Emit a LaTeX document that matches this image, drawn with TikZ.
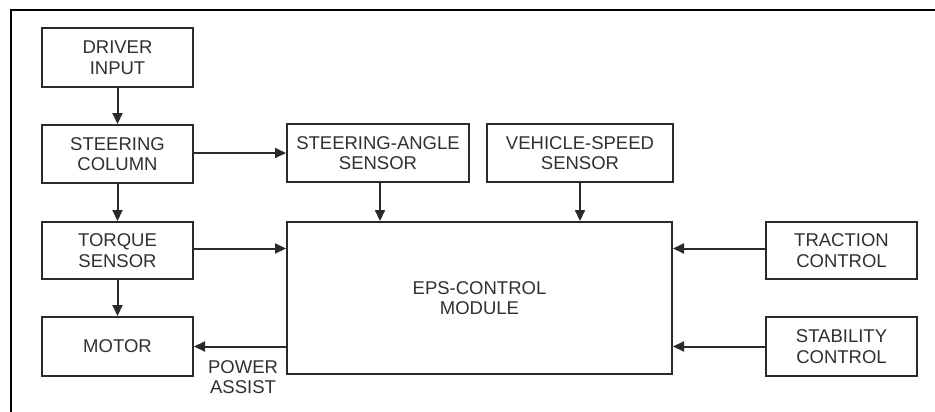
\documentclass[tikz,border=0pt]{standalone}
\usepackage{fontspec}
\setmainfont{Liberation Sans}
\usetikzlibrary{arrows.meta,calc}
\definecolor{linec}{HTML}{2A2A2A}
\definecolor{textc}{HTML}{303030}
\begin{document}
\begin{tikzpicture}[x=1pt,y=-1pt,
  blk/.style={draw=linec,line width=2pt,rectangle,inner sep=0pt,align=center,
    font=\fontsize{18.5}{20.5}\selectfont,text=textc},
  arr/.style={draw=linec,line width=2pt,-{Triangle[length=11pt,width=10pt]}}]
\useasboundingbox (0,0) rectangle (935,412);
\fill[white] (0,0) rectangle (935,412);
% frame
\draw[black,line width=2pt] (11,412) -- (11,10) -- (935,10);
% boxes
\node[blk,minimum width=151pt,minimum height=59pt] (driver) at (117.5,57.5) {DRIVER\\INPUT};
\node[blk,minimum width=151pt,minimum height=58pt] (column) at (117.5,154) {STEERING\\COLUMN};
\node[blk,minimum width=151pt,minimum height=57pt] (torque) at (117.5,250.5) {TORQUE\\SENSOR};
\node[blk,minimum width=151pt,minimum height=59pt] (motor) at (117.5,346.5) {MOTOR};
\node[blk,minimum width=182pt,minimum height=58pt] (angle) at (378,153) {STEERING-ANGLE\\SENSOR};
\node[blk,minimum width=186pt,minimum height=58pt] (speed) at (580,153) {VEHICLE-SPEED\\SENSOR};
\node[blk,minimum width=385pt,minimum height=152pt] (eps) at (479.5,298) {EPS-CONTROL\\MODULE};
\node[blk,minimum width=151pt,minimum height=57pt] (traction) at (841.5,250.5) {TRACTION\\CONTROL};
\node[blk,minimum width=151pt,minimum height=59pt] (stability) at (841.5,346.5) {STABILITY\\CONTROL};
% arrows
\draw[arr] (driver.south) -- (column.north);
\draw[arr] (column.south) -- (torque.north);
\draw[arr] (torque.south) -- (motor.north);
\draw[arr] (column.east |- angle.west) -- (angle.west);
\draw[arr] ($(torque.east)+(0,-2)$) -- ($(torque.east -| eps.west)+(0,-2)$);
\draw[arr] ($(angle.south)+(2,0)$) -- ($(angle.south |- eps.north)+(2,0)$);
\draw[arr] (speed.south) -- (speed.south |- eps.north);
\draw[arr] ($(traction.west)+(0,-2)$) -- ($(traction.west -| eps.east)+(0,-2)$);
\draw[arr] (stability.west) -- (stability.west -| eps.east);
\draw[arr] (eps.west |- motor.east) -- (motor.east);
\node[align=center,font=\fontsize{18.5}{20.5}\selectfont,text=textc,inner sep=0pt] (pa) at (243,377) {POWER\\ASSIST};
\end{tikzpicture}
\end{document}
